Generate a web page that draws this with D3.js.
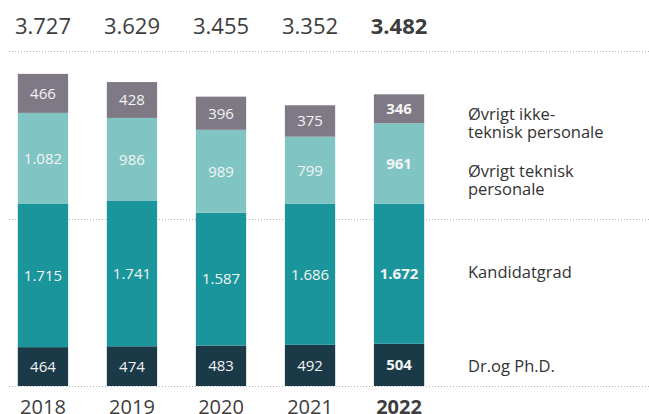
<!DOCTYPE html>
<html><head><meta charset="utf-8">
<script src="https://cdn.jsdelivr.net/npm/d3@7"></script>
<style>
html,body{margin:0;padding:0;background:#fff;}
svg{display:block;font-family:"Open Sans",sans-serif;}
</style></head>
<body>
<svg id="chart" width="649" height="414"></svg>
<script>
const years = ["2018","2019","2020","2021","2022"];
const seriesNames = ["Dr.og Ph.D.","Kandidatgrad","Øvrigt teknisk personale","Øvrigt ikke-teknisk personale"];
const drPhd = [464,474,483,492,504];
const kandidat = [1715,1741,1587,1686,1672];
const teknisk = [1082,986,989,799,961];
const ikkeTeknisk = [466,428,396,375,346];
const totals = [3727,3629,3455,3352,3482];
const gridTicks = [0,2000,4000];
const legendLines = [["Dr.og Ph.D."],["Kandidatgrad"],["Øvrigt teknisk","personale"],["Øvrigt ikke-","teknisk personale"]];
const colors = ["#1a3a47","#1b959c","#80c4c3","#7e7985"];
const highlightYear = "2022";

const loc = d3.formatLocale({decimal:",",thousands:".",grouping:[3],currency:["","kr"]});
const fmt = loc.format(",d");

const svg = d3.select("#chart");
const x = d3.scaleBand().domain(years).range([0,442]).paddingInner(0.435).paddingOuter(0.2);
const y = d3.scaleLinear().domain([0,4000]).range([386,51]);

const data = years.map((yr,i)=>({year:yr, v:[drPhd[i],kandidat[i],teknisk[i],ikkeTeknisk[i]]}));
const stack = d3.stack().keys([0,1,2,3]).value((d,k)=>d.v[k]);
const layers = stack(data);

// gridlines
svg.append("g").selectAll("line").data(gridTicks).join("line")
  .attr("x1",9).attr("x2",649)
  .attr("y1",d=>Math.round(y(d))+0.5).attr("y2",d=>Math.round(y(d))+0.5)
  .attr("stroke","#b5b5b5").attr("stroke-width",1).attr("stroke-dasharray","1,2");

// bars
const g = svg.append("g");
layers.forEach((layer,k)=>{
  g.append("g").selectAll("rect").data(layer).join("rect")
    .attr("x",d=>x(d.data.year)).attr("width",x.bandwidth())
    .attr("y",d=>y(d[1])).attr("height",d=>y(d[0])-y(d[1]))
    .attr("fill",colors[k]);
  g.append("g").selectAll("text").data(layer).join("text")
    .attr("x",d=>x(d.data.year)+x.bandwidth()/2)
    .attr("y",d=>(y(d[0])+y(d[1]))/2)
    .attr("dy","0.36em")
    .attr("text-anchor","middle")
    .attr("font-size",15)
    .attr("font-weight",d=>d.data.year===highlightYear?700:400)
    .attr("fill","#f4f4f4")
    .text(d=>fmt(d.data.v[k]));
});

// totals
svg.append("g").selectAll("text").data(years).join("text")
  .attr("x",d=>x(d)+x.bandwidth()/2)
  .attr("y",34)
  .attr("text-anchor","middle")
  .attr("font-size",22)
  .attr("font-weight",d=>d===highlightYear?700:400)
  .attr("fill","#3d3d3d")
  .text((d,i)=>fmt(totals[i]));

// x axis labels
const xAxis = d3.axisBottom(x).tickSize(0).tickPadding(0);
const ax = svg.append("g").attr("transform","translate(0,396)").call(xAxis);
ax.select(".domain").remove();
ax.selectAll("text").attr("font-size",20).attr("font-family","Open Sans, sans-serif")
  .attr("fill","#3d3d3d").attr("dy","0.9em")
  .attr("font-weight",d=>d===highlightYear?700:400);

// legend
const legendY = [372,278,177,120];
const lg = svg.append("g");
legendLines.forEach((lines,k)=>{
  const t = lg.append("text").attr("x",468).attr("y",legendY[k])
    .attr("font-size",16.5).attr("fill","#333");
  lines.forEach((ln,j)=>{
    t.append("tspan").attr("x",468).attr("dy",j===0?0:17.5).text(ln);
  });
});
</script>
</body></html>
